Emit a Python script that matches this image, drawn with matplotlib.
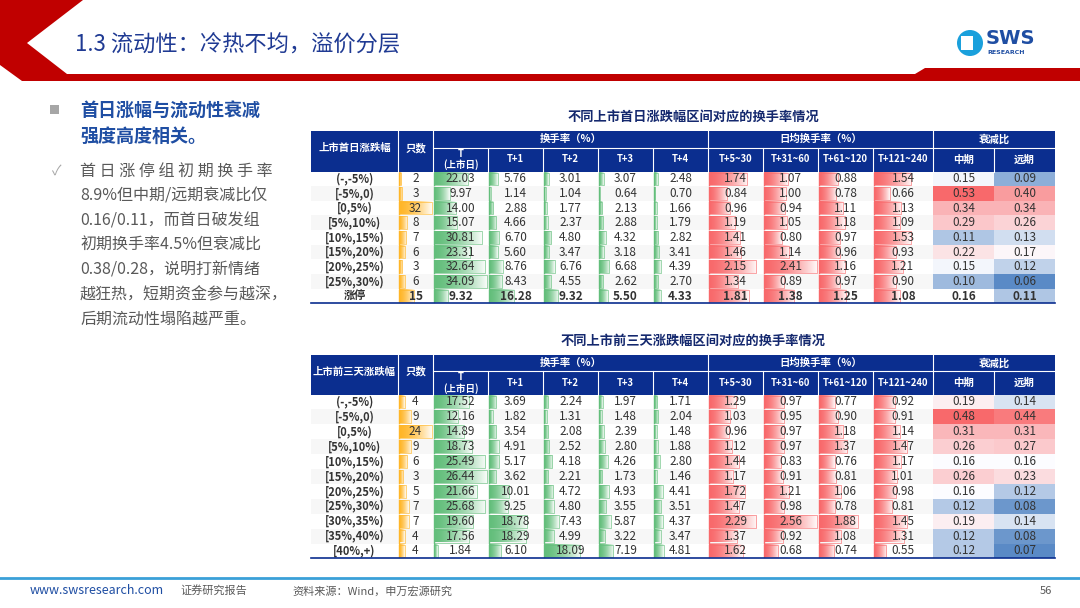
import matplotlib
matplotlib.use("Agg")
import matplotlib.pyplot as plt
import numpy as np
from matplotlib.patches import Rectangle, Polygon, Circle
from matplotlib.colors import to_rgb

plt.rcParams['font.family'] = ['Noto Sans CJK SC', 'DejaVu Sans']

# ---------------- data ----------------
title = "1.3 流动性：冷热不均，溢价分层"
t1_title = "不同上市首日涨跌幅区间对应的换手率情况"
t2_title = "不同上市前三天涨跌幅区间对应的换手率情况"
sub_cols = ["T\n(上市日)", "T+1", "T+2", "T+3", "T+4",
            "T+5~30", "T+31~60", "T+61~120", "T+121~240", "中期", "远期"]

labels1 = ["(-,-5%)", "[-5%,0)", "[0,5%)", "[5%,10%)", "[10%,15%)", "[15%,20%)",
           "[20%,25%)", "[25%,30%)", "涨停"]
count1 = [2, 3, 32, 8, 7, 6, 3, 6, 15]
turn1 = [[22.03, 5.76, 3.01, 3.07, 2.48],
         [9.97, 1.14, 1.04, 0.64, 0.70],
         [14.00, 2.88, 1.77, 2.13, 1.66],
         [15.07, 4.66, 2.37, 2.88, 1.79],
         [30.81, 6.70, 4.80, 4.32, 2.82],
         [23.31, 5.60, 3.47, 3.18, 3.41],
         [32.64, 8.76, 6.76, 6.68, 4.39],
         [34.09, 8.43, 4.55, 2.62, 2.70],
         [9.32, 16.28, 9.32, 5.50, 4.33]]
avg1 = [[1.74, 1.07, 0.88, 1.54],
        [0.84, 1.00, 0.78, 0.66],
        [0.96, 0.94, 1.11, 1.13],
        [1.19, 1.05, 1.18, 1.09],
        [1.41, 0.80, 0.97, 1.53],
        [1.46, 1.14, 0.96, 0.93],
        [2.15, 2.41, 1.16, 1.21],
        [1.34, 0.89, 0.97, 0.90],
        [1.81, 1.38, 1.25, 1.08]]
decay1 = [[0.15, 0.09], [0.53, 0.40], [0.34, 0.34], [0.29, 0.26], [0.11, 0.13],
          [0.22, 0.17], [0.15, 0.12], [0.10, 0.06], [0.16, 0.11]]

labels2 = ["(-,-5%)", "[-5%,0)", "[0,5%)", "[5%,10%)", "[10%,15%)", "[15%,20%)",
           "[20%,25%)", "[25%,30%)", "[30%,35%)", "[35%,40%)", "[40%,+)"]
count2 = [4, 9, 24, 9, 6, 3, 5, 7, 7, 4, 4]
turn2 = [[17.52, 3.69, 2.24, 1.97, 1.71],
         [12.16, 1.82, 1.31, 1.48, 2.04],
         [14.89, 3.54, 2.08, 2.39, 1.48],
         [18.73, 4.91, 2.52, 2.80, 1.88],
         [25.49, 5.17, 4.18, 4.26, 2.80],
         [26.44, 3.62, 2.21, 1.73, 1.46],
         [21.66, 10.01, 4.72, 4.93, 4.41],
         [25.68, 9.25, 4.80, 3.55, 3.51],
         [19.60, 18.78, 7.43, 5.87, 4.37],
         [17.56, 18.29, 4.99, 3.22, 3.47],
         [1.84, 6.10, 18.09, 7.19, 4.81]]
avg2 = [[1.29, 0.97, 0.77, 0.92],
        [1.03, 0.95, 0.90, 0.91],
        [0.96, 0.97, 1.18, 1.14],
        [1.12, 0.97, 1.37, 1.47],
        [1.44, 0.83, 0.76, 1.17],
        [1.17, 0.91, 0.81, 1.01],
        [1.72, 1.21, 1.06, 0.98],
        [1.47, 0.98, 0.78, 0.81],
        [2.29, 2.56, 1.88, 1.45],
        [1.37, 0.92, 1.08, 1.31],
        [1.62, 0.68, 0.74, 0.55]]
decay2 = [[0.19, 0.14], [0.48, 0.44], [0.31, 0.31], [0.26, 0.27], [0.16, 0.16],
          [0.26, 0.23], [0.16, 0.12], [0.12, 0.08], [0.19, 0.14], [0.12, 0.08],
          [0.12, 0.07]]

# ---------------- styles ----------------
NAVY = "#0b2e8f"
GREEN = "#63be7b"
ORANGE = "#ffb628"
RED = "#f8696b"
BLUE_S = np.array(to_rgb("#5a8ac6"))
RED_S = np.array(to_rgb("#f8696b"))
WHITE_S = np.array(to_rgb("#fcfcff"))
TXT = "#333333"

fig = plt.figure(figsize=(10.8, 6.08), dpi=100)
ax = fig.add_axes([0, 0, 1, 1])
ax.axis("off")

def gradbar(x0, y0, w, h, color):
    if w <= 0:
        return
    c = np.array(to_rgb(color))
    n = 64
    t = np.linspace(0, 1, n) ** 1.6
    rgb = c[None, :] * (1 - t[:, None] * 0.95) + np.ones(3)[None, :] * (t[:, None] * 0.95)
    img = rgb[None, :, :]
    ax.imshow(img, extent=[x0, x0 + w, y0 + h, y0], aspect='auto', zorder=2,
              interpolation='bilinear')
    ax.plot([x0, x0 + w, x0 + w, x0], [y0, y0, y0 + h, y0 + h], color=color, lw=0.6,
            alpha=0.7, zorder=3)
    ax.plot([x0, x0], [y0, y0 + h], color=color, lw=1.0, zorder=3)

def scale3(v, vmin, vmid, vmax):
    if v <= vmid:
        f = (v - vmin) / (vmid - vmin) if vmid > vmin else 1
        return BLUE_S * (1 - f) + WHITE_S * f
    f = (v - vmid) / (vmax - vmid) if vmax > vmid else 0
    return WHITE_S * (1 - f) + RED_S * f

X = [311, 398, 433, 488, 543, 598, 653, 708, 763, 818, 873, 933, 994, 1055]

def draw_table(ttl, ty, top, split, hbot, rh, first, labels, counts, turn, avg, decay, bold_last):
    ax.text((X[0] + X[-1]) / 2 + 10, ty, ttl, ha='center', va='center', fontsize=9.5,
            fontweight='bold', color="#14286e")
    ax.add_patch(Rectangle((X[0], top), X[-1] - X[0], hbot - top, fc=NAVY, ec='none', zorder=1))
    for i in range(1, len(X) - 1):
        if i in (2, 7, 11):
            ax.plot([X[i], X[i]], [top, hbot], color='white', lw=0.8, zorder=4)
        else:
            ax.plot([X[i], X[i]], [split if i > 1 else top, hbot], color='white', lw=0.8, zorder=4)
    ax.plot([X[2], X[-1]], [split, split], color='white', lw=0.8, zorder=4)
    hc = dict(color='white', fontweight='bold', ha='center', va='center', zorder=5)
    ax.text((X[0] + X[1]) / 2, (top + hbot) / 2 - 3, first, fontsize=7.5, **hc)
    ax.text((X[1] + X[2]) / 2, (top + hbot) / 2 - 3, "只数", fontsize=7.5, **hc)
    ax.text((X[2] + X[7]) / 2, (top + split) / 2, "换手率（%）", fontsize=7.5, **hc)
    ax.text((X[7] + X[11]) / 2, (top + split) / 2, "日均换手率（%）", fontsize=7.5, **hc)
    ax.text((X[11] + X[13]) / 2, (top + split) / 2, "衰减比", fontsize=7.5, **hc)
    for j, s in enumerate(sub_cols):
        fs = 7.5 if j >= 9 else 6.8
        ax.text((X[j + 2] + X[j + 3]) / 2, (split + hbot) / 2, s, fontsize=fs,
                linespacing=1.1, **hc)
    n = len(labels)
    cmax = max(counts)
    tmax = max(max(r) for r in turn)
    amax = max(max(r) for r in avg)
    allv = [v for r in decay for v in r]
    vmin, vmid, vmax = min(allv), float(np.percentile(allv, 50)), max(allv)
    for i in range(n):
        y0 = hbot + i * rh
        yc = y0 + rh / 2
        fw = 'bold' if (bold_last and i == n - 1) else 'normal'
        if i % 2 == 1:
            ax.add_patch(Rectangle((X[0], y0), X[-1] - X[0], rh, fc="#f7f7f7", ec='none', zorder=0.5))
        ax.text((X[0] + X[1]) / 2, yc, labels[i], ha='center', va='center', fontsize=8,
                fontweight='bold', color=TXT, zorder=5)
        gradbar(X[1] + 1, y0 + 1, (X[2] - X[1] - 2) * counts[i] / cmax, rh - 2, ORANGE)
        ax.text((X[1] + X[2]) / 2, yc, str(counts[i]), ha='center', va='center', fontsize=8.5,
                fontweight=fw, color=TXT, zorder=5)
        for j in range(5):
            w = (X[j + 3] - X[j + 2] - 2) * turn[i][j] / tmax
            gradbar(X[j + 2] + 1, y0 + 1, w, rh - 2, GREEN)
            ax.text((X[j + 2] + X[j + 3]) / 2, yc, f"{turn[i][j]:.2f}", ha='center', va='center',
                    fontsize=8.5, fontweight=fw, color=TXT, zorder=5)
        for j in range(4):
            w = (X[j + 8] - X[j + 7] - 2) * avg[i][j] / amax
            gradbar(X[j + 7] + 1, y0 + 1, w, rh - 2, RED)
            ax.text((X[j + 7] + X[j + 8]) / 2, yc, f"{avg[i][j]:.2f}", ha='center', va='center',
                    fontsize=8.5, fontweight=fw, color=TXT, zorder=5)
        for j in range(2):
            c = scale3(decay[i][j], vmin, vmid, vmax)
            if not (bold_last and i == n - 1 and j == 0):
                ax.add_patch(Rectangle((X[j + 11], y0), X[j + 12] - X[j + 11], rh, fc=c, ec='none', zorder=1))
            ax.text((X[j + 11] + X[j + 12]) / 2, yc, f"{decay[i][j]:.2f}", ha='center', va='center',
                    fontsize=8.5, fontweight=fw, color=TXT, zorder=5)
    bot = hbot + n * rh
    ax.plot([X[0], X[-1]], [bot, bot], color=NAVY, lw=1.2, zorder=6)

draw_table(t1_title, 117, 131, 147.5, 171.5, 14.65, "上市首日涨跌幅", labels1, count1,
           turn1, avg1, decay1, True)
draw_table(t2_title, 341, 355, 371, 394.5, 14.9, "上市前三天涨跌幅", labels2, count2,
           turn2, avg2, decay2, False)

# ---------------- slide decorations ----------------
ax.add_patch(Polygon([(0, 0), (83, 0), (27, 43), (67, 74), (915, 74), (925, 68), (1080, 68),
                      (1080, 81), (22, 81), (0, 65)], closed=True,
                     fc="#c00000", ec='none', zorder=1))
ax.text(75, 45, title, ha='left', va='center', fontsize=16, color="#1f3a93")
ax.add_patch(Circle((970, 43), 13, fc="#1aa0dc", ec='none', zorder=2))
ax.add_patch(Rectangle((961, 36), 12, 14, fc="white", ec='none', zorder=3))
ax.text(986, 39, "SWS", ha='left', va='center', fontsize=14, fontweight='bold', color="#1f4ea3",
        family=['DejaVu Sans'])
ax.text(987, 53, "RESEARCH", ha='left', va='center', fontsize=4.5, fontweight='bold',
        color="#1f4ea3", family=['DejaVu Sans'])

# left text
ax.add_patch(Rectangle((50, 105), 9, 9, fc="#a6a6a6", ec='none'))
ax.text(80, 110, "首日涨幅与流动性衰减", ha='left', va='center', fontsize=13,
        fontweight='bold', color="#1f4ea3")
ax.text(80, 136, "强度高度相关。", ha='left', va='center', fontsize=13,
        fontweight='bold', color="#1f4ea3")
ax.text(52, 171, "✓", ha='left', va='center', fontsize=10, color="#a6a6a6")
body = ["首 日 涨 停 组 初 期 换 手 率", "8.9%但中期/远期衰减比仅", "0.16/0.11，而首日破发组",
        "初期换手率4.5%但衰减比", "0.38/0.28，说明打新情绪", "越狂热，短期资金参与越深，",
        "后期流动性塌陷越严重。"]
for k, s in enumerate(body):
    ax.text(80, 171 + k * 24.8, s, ha='left', va='center', fontsize=11.5, color="#595959")

# footer
ax.plot([0, 1080], [578, 578], color="#3aa0d8", lw=2)
ax.text(30, 591, "www.swsresearch.com", ha='left', va='center', fontsize=9, color="#1f4ea3")
ax.text(180, 590, "证券研究报告", ha='left', va='center', fontsize=8, color="#595959")
ax.text(292, 591, "资料来源：Wind，申万宏源研究", ha='left', va='center', fontsize=8, color="#595959")
ax.text(1040, 591, "56", ha='left', va='center', fontsize=8, color="#595959")

ax.set_xlim(0, 1080)
ax.set_ylim(608, 0)
fig.savefig("out.png", dpi=100)
